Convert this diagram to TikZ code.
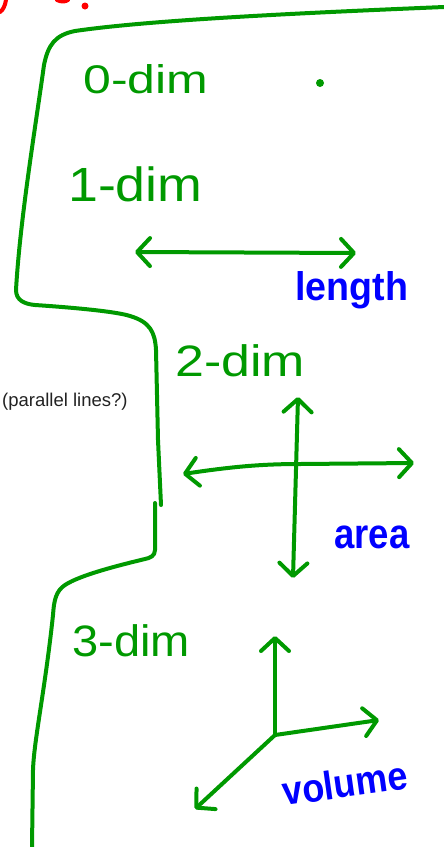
\documentclass[tikz,border=0pt]{standalone}
\usepackage{fontspec}
\setmainfont{Liberation Sans}
\usetikzlibrary{arrows.meta}
\definecolor{penGreen}{RGB}{0,153,0}
\definecolor{penBlue}{RGB}{0,0,255}
\definecolor{penRed}{RGB}{255,0,0}
\definecolor{printInk}{RGB}{34,34,34}
\tikzset{
  pen/.style={draw=penGreen, line width=4pt, line cap=round, line join=round},
  redpen/.style={draw=penRed, line width=4pt, line cap=round, line join=round},
  barb/.style={arrows={-Straight Barb[length=13pt,width=28pt,round]}},
  barbs/.style={arrows={Straight Barb[length=13pt,width=28pt,round]-Straight Barb[length=13pt,width=28pt,round]}},
  dimlabel/.style={text=penGreen, inner sep=0pt, anchor=base west},
  measure/.style={text=penBlue, inner sep=0pt, anchor=base west, font=\bfseries},
}
\newcommand{\fsz}[1]{\fontsize{#1}{#1}\selectfont}
\begin{document}
\begin{tikzpicture}[x=1pt,y=-1pt]
\useasboundingbox (0,0) rectangle (444,847);

% cut-off red heading fragments
\draw[redpen] (6,0) .. controls (5,6) and (3,10) .. (0,12);
\draw[redpen] (57,0) .. controls (61,2) and (65,2) .. (68,0);
\fill[penRed] (85,6) circle (3.5pt);

% green outline bracket, two strokes
\draw[pen] (444,7) .. controls (300,13) and (150,20) .. (75,31)
  .. controls (55,35) and (48,45) .. (44,65)
  .. controls (35,130) and (20,220) .. (16,290)
  .. controls (16,300) and (24,304) .. (35,305)
  .. controls (80,308) and (118,312) .. (130,316)
  .. controls (150,322) and (155,332) .. (156,350)
  -- (158,440) -- (161,505);
\draw[pen] (155,503) -- (155,550)
  .. controls (155,556) and (150,558) .. (145,559)
  .. controls (120,565) and (80,575) .. (65,585)
  .. controls (56,591) and (54,600) .. (53,615)
  .. controls (45,690) and (34,740) .. (33,770) -- (32,847);

% 0-dim
\node[dimlabel] (zero) at (83,93) {\fsz{40}\scalebox{1.25}[1]{0-dim}};
\fill[penGreen] (320,83) circle (4pt);

% 1-dim
\node[dimlabel] (one) at (68,201) {\fsz{48}\scalebox{1.12}[1]{1-dim}};
\coordinate (lenL) at (135,252);
\coordinate (lenR) at (356,253);
\draw[pen, barbs] (lenL) -- (lenR);
\node[measure] (length) at (295,300) {\fsz{40}\scalebox{0.94}[1]{length}};

% 2-dim
\node[dimlabel] (two) at (175,376) {\fsz{44}\scalebox{1.18}[1]{2-dim}};
\node[text=printInk, inner sep=0pt, anchor=base west] (note) at (2,406) {\fsz{18.5}(parallel lines?)};
\coordinate (hL) at (183,474);
\coordinate (hR) at (414,463);
\coordinate (vT) at (298,397);
\coordinate (vB) at (293,578);
\draw[pen, barbs] (hL) .. controls (230,467) and (260,464) .. (300,464) -- (hR);
\draw[pen, barbs] (vT) -- (vB);
\node[measure] (area) at (334,548) {\fsz{42}\scalebox{0.87}[1]{area}};

% 3-dim
\node[dimlabel] (three) at (72,656) {\fsz{44}\scalebox{1.07}[1]{3-dim}};
\coordinate (o) at (275,735);
\coordinate (zT) at (275,636);
\coordinate (xT) at (379,720);
\coordinate (yT) at (195,809);
\draw[pen, barb] (o) -- (zT);
\draw[pen, barb] (o) -- (xT);
\draw[pen, barb] (o) -- (yT);
\node[measure, rotate=8] (volume) at (284,806) {\fsz{40}\scalebox{0.9}[1]{volume}};
\end{tikzpicture}
\end{document}
